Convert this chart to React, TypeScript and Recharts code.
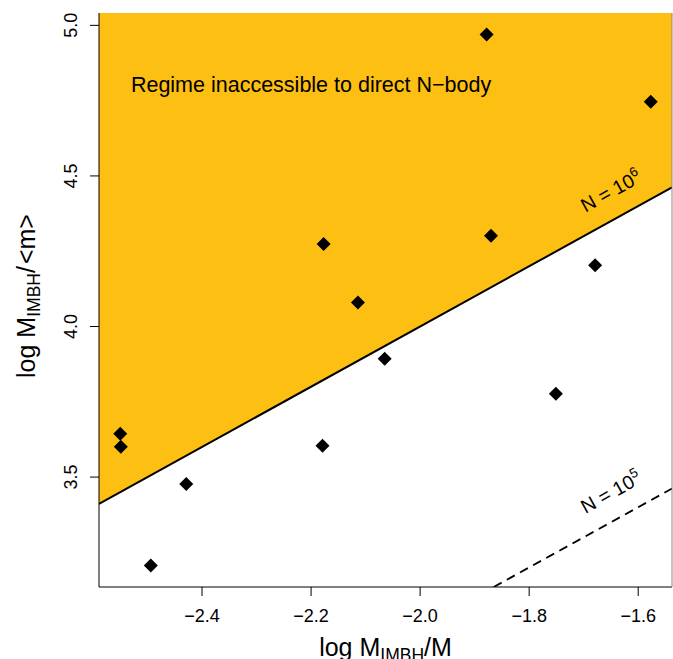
import React from 'react'
import { ComposedChart, XAxis, YAxis, Area, Line, Scatter, ReferenceDot } from 'recharts'

// measured simulations: log M_IMBH/M vs log M_IMBH/<m>
const logMassFrac = [-1.878, -1.577, -2.177, -1.870, -2.114, -2.065, -1.679, -1.751, -2.550, -2.549, -2.179, -2.429, -2.494]
const logMassRatio = [4.970, 4.746, 4.274, 4.301, 4.080, 3.893, 4.203, 3.777, 3.644, 3.601, 3.604, 3.477, 3.206]

const xTicks = [-2.4, -2.2, -2.0, -1.8, -1.6]
const yTicks = [3.5, 4.0, 4.5, 5.0]

const xDomain = [-2.589, -1.538]
const yDomain = [3.135, 5.041]

// N = 10^6 and N = 10^5 lines, read where they meet the frame
const n6X = [-2.589, -1.538]
const n6Y = [3.411, 4.462]
const n5X = [-1.865, -1.538]
const n5Y = [3.135, 3.462]

const FONT = '"Liberation Sans", Arial, Helvetica, sans-serif'
const ORANGE = '#FCBF12'

const points = logMassFrac.map((x, i) => ({ x, y: logMassRatio[i] }))
const n6 = n6X.map((x, i) => ({ x, y: n6Y[i] }))
const n5 = n5X.map((x, i) => ({ x, y: n5Y[i] }))
const band = n6X.map((x, i) => ({ x, band: [n6Y[i], yDomain[1]] }))

const fmt = (v: number) => (v < 0 ? '\u2212' : '') + Math.abs(v).toFixed(1)

const Diamond = ({ cx, cy }: any) => (
  <polygon points={`${cx},${cy - 7} ${cx + 7},${cy} ${cx},${cy + 7} ${cx - 7},${cy}`} fill="#000" />
)

const XTick = ({ x, y, payload }: any) => (
  <text x={x} y={y} textAnchor="middle" fontSize={18} fill="#000">{fmt(payload.value)}</text>
)

const YTick = ({ x, y, payload }: any) => (
  <text x={x} y={y} transform={`rotate(-90, ${x}, ${y})`} textAnchor="middle" fontSize={18} fill="#000">
    {payload.value.toFixed(1)}
  </text>
)

const XTitle = ({ viewBox }: any) => {
  const cx = viewBox.x + viewBox.width / 2
  const by = viewBox.y + 69
  return (
    <text x={cx} y={by} textAnchor="middle" fontSize={25} fill="#000">
      log M<tspan fontSize={17.5} dy={5}>IMBH</tspan><tspan dy={-5}>/M</tspan>
    </text>
  )
}

const YTitle = ({ viewBox }: any) => {
  const bx = 35
  const cy = viewBox.y + viewBox.height / 2 - 4
  return (
    <text x={bx} y={cy} transform={`rotate(-90, ${bx}, ${cy})`} textAnchor="middle" fontSize={25} fill="#000">
      log M<tspan fontSize={17.5} dy={5}>IMBH</tspan><tspan dy={-5}>/</tspan>
      <tspan dx={2}>&lt;m&gt;</tspan>
    </text>
  )
}

const RegimeLabel = ({ viewBox }: any) => {
  const cx = viewBox.x + viewBox.width / 2
  const cy = viewBox.y + viewBox.height / 2
  return (
    <text x={cx} y={cy} dy="0.3em" textAnchor="middle" fontSize={21.5} fill="#000">
      Regime inaccessible to direct N{'\u2212'}body
    </text>
  )
}

const nLabel = (exp: string) => ({ viewBox }: any) => {
  const cx = viewBox.x + viewBox.width / 2
  const cy = viewBox.y + viewBox.height / 2
  return (
    <text x={cx} y={cy} dy="0.35em" transform={`rotate(-29, ${cx}, ${cy})`} textAnchor="middle" fontSize={19.5} fill="#000">
      N = 10<tspan dy={-8} fontSize={13.5}>{exp}</tspan>
    </text>
  )
}

export default function App() {
  return (
    <div style={{ position: 'absolute', left: 0, top: 0, background: '#fff' }}>
      <ComposedChart
        width={673}
        height={659}
        margin={{ top: 13, right: 0, bottom: 0, left: 0 }}
        style={{ fontFamily: FONT }}
      >
        <XAxis
          dataKey="x"
          type="number"
          domain={xDomain}
          allowDataOverflow
          ticks={xTicks}
          height={72}
          tickSize={9}
          tickMargin={26}
          tick={<XTick />}
          axisLine={{ stroke: '#000' }}
          tickLine={{ stroke: '#000' }}
          label={{ content: XTitle }}
        />
        <YAxis
          dataKey="y"
          type="number"
          domain={yDomain}
          allowDataOverflow
          ticks={yTicks}
          width={99}
          tickSize={9}
          tickMargin={13}
          tick={<YTick />}
          axisLine={{ stroke: '#000' }}
          tickLine={{ stroke: '#000' }}
          label={{ content: YTitle }}
        />
        <YAxis yAxisId="frame" orientation="right" width={1} tick={false} tickLine={false} axisLine={{ stroke: '#888' }} />
        <Area
          data={band}
          dataKey="band"
          type="linear"
          fill={ORANGE}
          fillOpacity={1}
          stroke={ORANGE}
          strokeWidth={1}
          isAnimationActive={false}
        />
        <Line data={n6} dataKey="y" type="linear" stroke="#000" strokeWidth={2} dot={false} isAnimationActive={false} />
        <Line
          data={n5}
          dataKey="y"
          type="linear"
          stroke="#000"
          strokeWidth={1.8}
          strokeDasharray="9 6"
          dot={false}
          isAnimationActive={false}
        />
        <Scatter data={points} shape={<Diamond />} isAnimationActive={false} />
        <ReferenceDot x={-2.2} y={4.8} r={1} fill="none" stroke="none" label={{ content: RegimeLabel }} />
        <ReferenceDot x={-1.65} y={4.45} r={1} fill="none" stroke="none" label={{ content: nLabel('6') }} />
        <ReferenceDot x={-1.65} y={3.45} r={1} fill="none" stroke="none" label={{ content: nLabel('5') }} />
      </ComposedChart>
    </div>
  )
}
